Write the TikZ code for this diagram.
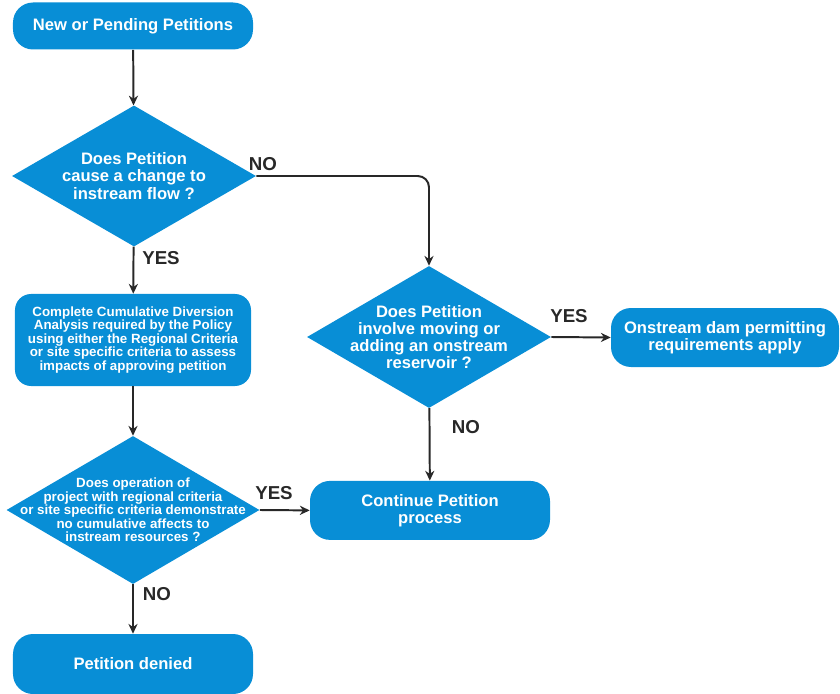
\documentclass[tikz,border=0pt]{standalone}
\usepackage{fontspec}
\setmainfont{Liberation Sans}
\usepackage{tikz}
\usetikzlibrary{shapes.geometric, arrows.meta, positioning}

\definecolor{flowblue}{RGB}{8,142,214}
\definecolor{linegray}{RGB}{40,40,40}
\newcommand{\boxfont}{\fontsize{11.8}{12.2}\selectfont\bfseries}
\newcommand{\smallboxfont}{\fontsize{9.5}{9.6}\selectfont\bfseries}
\newcommand{\lblfont}{\fontsize{13.3}{14}\selectfont\bfseries}

\tikzset{
  flowbox/.style={rectangle, rounded corners=0.5cm, fill=flowblue, text=white, font=\boxfont, align=center, inner sep=0pt},
  decision/.style={diamond, fill=flowblue, inner sep=0pt, aspect=1.7},
  dtext/.style={text=white, align=center, inner sep=0pt},
  lbl/.style={text=linegray, font=\lblfont, inner sep=0pt},
  flowline/.style={->, draw=linegray, line width=1.4pt, >={Stealth[length=7pt,width=6.5pt]}}
}

\begin{document}
\begin{tikzpicture}
                \useasboundingbox (0,0) rectangle (21,-17.35);
                % left column
                \node[flowbox, minimum width=6cm, minimum height=1.175cm] (start) at (3.325,-0.65) {New or Pending Petitions};
                \node[decision, minimum width=6.1cm, minimum height=3.525cm] (q1) at (3.35,-4.4) {};
                \node[dtext, font=\boxfont] (q1t) at (q1) {Does Petition\\cause a change to\\instream flow ?};
                \node[flowbox, rounded corners=0.4cm, font=\smallboxfont, minimum width=5.9cm, minimum height=2.3cm] (cda) at (3.325,-8.5) {Complete Cumulative Diversion\\Analysis required by the Policy\\using either the Regional Criteria\\or site specific criteria to assess\\impacts of approving petition};
                \node[decision, minimum width=6.325cm, minimum height=3.7cm] (q3) at (3.325,-12.75) {};
                \node[dtext, font=\smallboxfont] (q3t) at (q3) {Does operation of\\project with regional criteria\\or site specific criteria demonstrate\\no cumulative affects to\\instream resources ?};
                \node[flowbox, minimum width=6cm, minimum height=1.5cm] (denied) at (3.325,-16.6) {Petition denied};
                % right side
                \node[decision, minimum width=6.1cm, minimum height=3.55cm] (q2) at (10.725,-8.425) {};
                \node[dtext, font=\boxfont] (q2t) at (q2) {Does Petition\\involve moving or\\adding an onstream\\reservoir ?};
                \node[flowbox, minimum width=5.7cm, minimum height=1.475cm] (onstream) at (18.125,-8.4375) {Onstream dam permitting\\requirements apply};
                \node[flowbox, minimum width=6cm, minimum height=1.475cm] (cont) at (10.75,-12.76) {Continue Petition\\process};
                % connectors
                \draw[flowline] (start) -- (q1);
                \draw[flowline] (q1) -- (cda);
                \draw[flowline, rounded corners=8pt] (q1.east) -| (q2.north);
                \draw[flowline] (cda) -- (q3);
                \draw[flowline] (q3) -- (denied);
                \draw[flowline] (q3.east) -- (cont.west);
                \draw[flowline] (q2.east) -- (onstream.west);
                \draw[flowline] (q2) -- (cont);
                % labels
                \node[lbl] (no1) at (6.575,-4.1) {NO};
                \node[lbl] (yes1) at (4.025,-6.45) {YES};
                \node[lbl] (yes2) at (14.225,-7.9) {YES};
                \node[lbl] (no2) at (11.65,-10.675) {NO};
                \node[lbl] (yes3) at (6.85,-12.325) {YES};
                \node[lbl] (no3) at (3.925,-14.85) {NO};
            \end{tikzpicture}
\end{document}
